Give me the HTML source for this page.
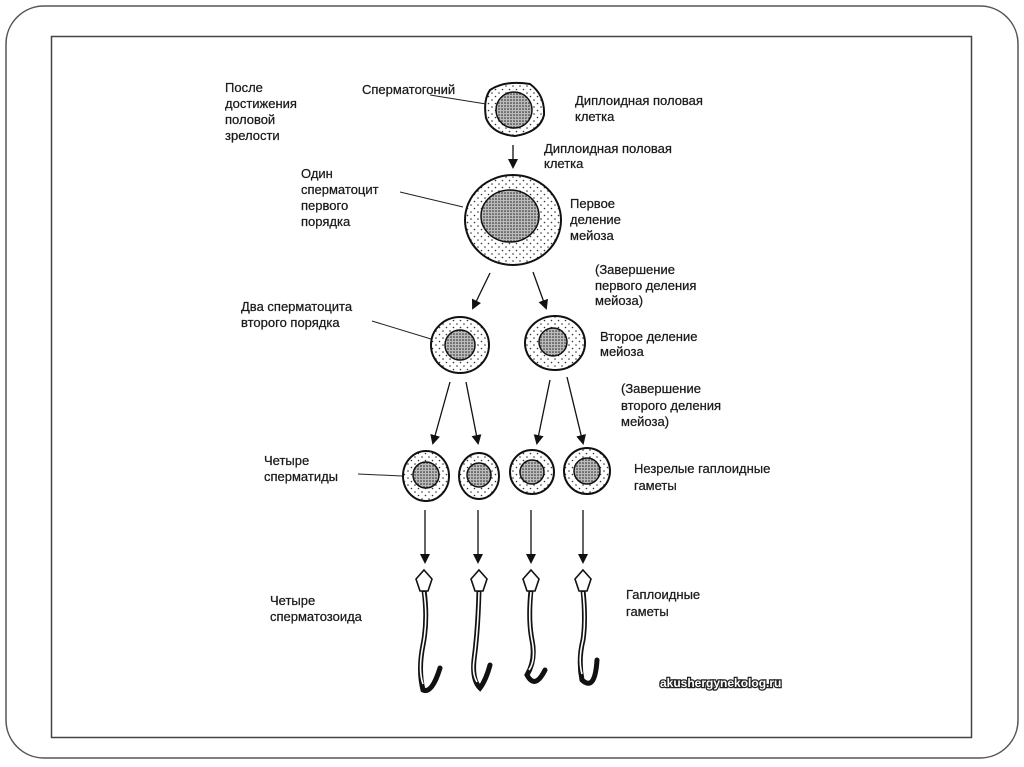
<!DOCTYPE html>
<html><head><meta charset="utf-8"><style>
html,body{margin:0;padding:0;background:#fff;}
svg{display:block}
text{font-family:"Liberation Sans",Arial,sans-serif;font-size:13px;fill:#1a1a1a;stroke:#1a1a1a;stroke-width:0.25}
</style></head><body>
<svg width="1024" height="767" viewBox="0 0 1024 767" xmlns="http://www.w3.org/2000/svg">
<defs>
<pattern id="dots" width="7" height="7" patternUnits="userSpaceOnUse"><circle cx="2" cy="2" r="0.8" fill="#333"/><circle cx="5.5" cy="5.5" r="0.8" fill="#333"/></pattern>
<pattern id="fine" width="3" height="3" patternUnits="userSpaceOnUse"><rect width="3" height="3" fill="#bbb"/><circle cx="1" cy="1" r="0.8" fill="#222"/></pattern>
<marker id="ah" markerWidth="10" markerHeight="10" refX="8" refY="5" orient="auto" markerUnits="userSpaceOnUse"><path d="M0,0 L10,5 L0,10 z" fill="#111"/></marker>
</defs>
<rect x="6" y="6" width="1012" height="752" rx="38" fill="none" stroke="#555" stroke-width="1.5"/>
<rect x="51.5" y="36.5" width="920" height="701" fill="#fff" stroke="#444" stroke-width="1.5"/>

<g stroke="#111" stroke-width="2">
<path d="M490,90 Q505,80 530,84 Q545,95 544,115 Q540,132 515,136 Q492,134 486,118 Q483,100 490,90z" fill="url(#dots)"/>
<circle cx="514" cy="110" r="18" fill="url(#fine)" stroke-width="1.5"/>
<ellipse cx="513" cy="220" rx="48" ry="45" fill="url(#dots)"/>
<ellipse cx="510" cy="216" rx="29" ry="26" fill="url(#fine)" stroke-width="1.5"/>
<ellipse cx="460" cy="345" rx="29" ry="28" fill="url(#dots)"/>
<circle cx="460" cy="345" r="15" fill="url(#fine)" stroke-width="1.5"/>
<ellipse cx="555" cy="343" rx="30" ry="27" fill="url(#dots)"/>
<circle cx="553" cy="342" r="14" fill="url(#fine)" stroke-width="1.5"/>
<ellipse cx="426" cy="476" rx="23" ry="25" fill="url(#dots)"/>
<circle cx="426" cy="475" r="13" fill="url(#fine)" stroke-width="1.5"/>
<ellipse cx="479" cy="476" rx="20" ry="23" fill="url(#dots)"/>
<circle cx="479" cy="475" r="12" fill="url(#fine)" stroke-width="1.5"/>
<ellipse cx="532" cy="472" rx="22" ry="22" fill="url(#dots)"/>
<circle cx="532" cy="472" r="12" fill="url(#fine)" stroke-width="1.5"/>
<ellipse cx="587" cy="471" rx="23" ry="23" fill="url(#dots)"/>
<circle cx="587" cy="471" r="13" fill="url(#fine)" stroke-width="1.5"/>
</g>

<g stroke="#111" stroke-width="1.3" marker-end="url(#ah)">
<line x1="513" y1="145" x2="513" y2="167"/>
<line x1="490" y1="273" x2="473" y2="308"/>
<line x1="533" y1="272" x2="546" y2="308"/>
<line x1="450" y1="382" x2="433" y2="443"/>
<line x1="466" y1="382" x2="478" y2="443"/>
<line x1="550" y1="380" x2="537" y2="443"/>
<line x1="567" y1="377" x2="583" y2="443"/>
<line x1="425" y1="510" x2="425" y2="562"/>
<line x1="478" y1="510" x2="478" y2="562"/>
<line x1="531" y1="510" x2="531" y2="562"/>
<line x1="583" y1="510" x2="583" y2="562"/>
</g>
<g stroke="#222" stroke-width="1">
<line x1="430" y1="95" x2="486" y2="104"/>
<line x1="400" y1="192" x2="463" y2="207"/>
<line x1="372" y1="321" x2="431" y2="339"/>
<line x1="358" y1="474" x2="402" y2="476"/>
</g>

<g fill="none" stroke="#111" stroke-width="5" stroke-linecap="round">
<path d="M424,590 Q428,620 423,645 Q418,670 423,690 Q432,694 440,668"/>
<path d="M479,590 Q478,630 474,660 Q472,680 480,688 Q486,680 490,665"/>
<path d="M531,590 Q528,620 532,640 Q536,660 527,675 Q535,690 545,670"/>
<path d="M583,590 Q586,620 583,640 Q578,660 582,680 Q595,692 597,660"/>
</g>
<g fill="none" stroke="#fff" stroke-width="1.6">
<path d="M424,592 Q428,620 423,645 Q418,670 423,684"/>
<path d="M479,592 Q478,630 474,660 Q472,674 477,682"/>
<path d="M531,592 Q528,620 532,640 Q536,660 529,670"/>
<path d="M583,592 Q586,620 583,640 Q578,660 582,674"/>
</g>
<g fill="#fff" stroke="#111" stroke-width="1.6">
<path d="M424,570 L432,579 L428,591 L420,591 L416,579z"/>
<path d="M479,570 L487,579 L483,591 L475,591 L471,579z"/>
<path d="M531,570 L539,579 L535,591 L527,591 L523,579z"/>
<path d="M583,570 L591,579 L587,591 L579,591 L575,579z"/>
</g>

<text x="225" y="92">После</text><text x="225" y="108">достижения</text><text x="225" y="124">половой</text><text x="225" y="140">зрелости</text>
<text x="362" y="94">Сперматогоний</text>
<text x="575" y="105">Диплоидная половая</text><text x="575" y="121">клетка</text>
<text x="544" y="153">Диплоидная половая</text><text x="544" y="168">клетка</text>
<text x="301" y="178">Один</text><text x="301" y="194">сперматоцит</text><text x="301" y="210">первого</text><text x="301" y="226">порядка</text>
<text x="570" y="208">Первое</text><text x="570" y="224">деление</text><text x="570" y="240">мейоза</text>
<text x="595" y="274">(Завершение</text><text x="595" y="290">первого деления</text><text x="595" y="305">мейоза)</text>
<text x="241" y="311">Два сперматоцита</text><text x="241" y="327">второго порядка</text>
<text x="600" y="341">Второе деление</text><text x="600" y="356">мейоза</text>
<text x="621" y="393">(Завершение</text><text x="621" y="410">второго деления</text><text x="621" y="426">мейоза)</text>
<text x="264" y="465">Четыре</text><text x="264" y="481">сперматиды</text>
<text x="634" y="473">Незрелые гаплоидные</text><text x="634" y="490">гаметы</text>
<text x="270" y="605">Четыре</text><text x="270" y="621">сперматозоида</text>
<text x="626" y="599">Гаплоидные</text><text x="626" y="616">гаметы</text>
<text x="660" y="687" style="font-size:12px;font-weight:bold;fill:#fff;stroke:#222;stroke-width:2.5;paint-order:stroke">akushergynekolog.ru</text>
</svg>
</body></html>
